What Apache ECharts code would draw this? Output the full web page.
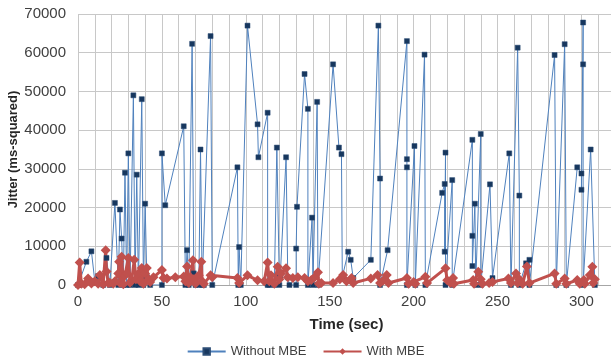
<!DOCTYPE html>
<html>
<head>
<meta charset="utf-8">
<script src="https://cdn.jsdelivr.net/npm/echarts@6/dist/echarts.min.js"></script>
<style>
  html, body { margin: 0; padding: 0; background: #fff; }
  #chart { width: 611px; height: 363px; }
</style>
</head>
<body>
<div id="chart"></div>
<script>
  // Without MBE (blue)
  const withoutTime = [0, 1, 5, 8, 10, 12, 15, 17, 19, 22, 24, 25, 26, 27, 28, 29, 30, 31, 33, 34, 35, 36, 38, 39, 40, 41, 43,
    50, 50, 52, 63, 64, 65, 66, 68, 69, 70, 72, 73, 74, 75, 79, 80, 95, 95.5, 96, 97, 101, 107, 107.5, 113, 113, 114, 117,
    118.5, 120, 120.5, 124, 125, 126, 130, 130, 130.5, 135, 137, 137, 139.5, 140, 142.5, 143, 152, 155.5, 157, 157.5, 161,
    162.5, 164, 174.5, 179, 180, 180, 184.5, 196, 196, 196, 196, 200.5, 201, 206.5, 207, 217, 218.5, 218.5, 219, 219, 223,
    223, 235, 235, 235, 236.5, 237, 240, 240, 245.5, 247, 257, 258, 262, 263, 263, 267, 269, 269, 284, 285, 290, 291,
    297.5, 300, 300, 301, 301, 301, 305.5, 308];
  const withoutJitter = [0, 0, 6000, 8700, 1000, 2300, 0, 7000, 0, 21200, 0, 19500, 12000, 0, 29000, 0, 34000, 0, 49000, 0, 28500, 0, 48000, 0, 21000, 2000, 0,
    0, 34000, 20600, 41000, 0, 9000, 0, 62300, 3000, 0, 0, 35000, 0, 0, 64300, 0, 30400, 0, 9800, 0, 67000, 41500, 33000, 44500, 0, 0, 0,
    35500, 0, 2000, 33000, 2000, 0, 0, 9400, 20200, 54500, 45500, 0, 17400, 0, 47300, 0, 57000, 35500, 33800, 2000, 8600,
    6500, 1800, 6500, 67000, 27500, 0, 9000, 63000, 32500, 30400, 0, 35900, 0, 59500, 0, 23800, 26100, 8600, 34200, 0, 27100,
    0, 37500, 12700, 4900, 21000, 0, 39000, 0, 26000, 1800, 34000, 0, 61300, 23100, 0, 5600, 6500, 0, 59400, 0, 62200, 0,
    30400, 28800, 24600, 67800, 57000, 0, 35000, 0];

  // With MBE (red)
  const withTime = [0, 1, 2, 4, 6, 8, 10, 12, 13, 15, 16.5, 17, 18, 19, 21, 22, 24, 24.5, 25, 26, 27, 28, 29, 30, 31, 32, 33.5,
    34.5, 36, 37, 38, 39, 40, 41, 42, 43, 45, 50, 51, 53, 58, 63, 64, 65, 66, 67, 68.5, 69, 70, 72, 73.5, 74, 75, 79, 80,
    95, 96, 101, 107, 111, 113, 114, 115, 117, 119, 120, 121, 124, 125, 128, 131, 135, 137, 139, 141, 143, 143.5, 145, 152,
    156, 158, 160, 163, 164, 174.5, 178.5, 180, 182, 184, 185, 196, 197, 200, 201, 207, 208, 219, 220, 222, 223.5, 224,
    235.5, 236, 238.5, 240, 241, 245, 247, 256.5, 258, 261, 262, 263, 265, 267.5, 269, 284, 285, 290, 291, 297.5, 299,
    301.5, 302, 305, 306.5, 307, 308];
  const withJitter = [0, 5800, 300, 200, 1700, 400, 1000, 300, 2600, 200, 9000, 3500, 500, 600, 300, 1000, 3000, 6000, 500, 7300, 200, 2500, 3000, 7000, 600, 1200, 6500,
    1500, 3000, 1000, 4400, 300, 3000, 4400, 1500, 800, 2000, 3900, 1800, 1700, 2000, 2200, 1000, 4800, 500, 2000, 6400, 1500, 400, 2500, 6000, 1000, 300, 2500, 2000,
    1800, 500, 2500, 1200, 1000, 5800, 1000, 2500, 300, 4700, 1500, 3000, 4300, 2000, 1800, 2000, 1800, 1000, 1300, 2000, 3300, 300, 500, 500,
    1500, 2600, 1000, 1800, 500, 1700, 2600, 500, 1200, 2600, 500, 1800, 300, 800, 300, 2100, 500, 4300, 1200, 500, 1800, 300,
    1300, 300, 3400, 1500, 300, 500, 800, 1700, 500, 3000, 500, 1500, 300, 4800, 500, 3000, 300, 1700, 300, 1300, 300,
    1300, 300, 2600, 4700, 500, 1500];

  const seriesNames = ['Without MBE', 'With MBE'];

  const zip = (xs, ys) => xs.map((x, i) => [x, ys[i]]);

  const chart = echarts.init(document.getElementById('chart'));
  chart.setOption({
    animation: false,
    textStyle: { fontFamily: 'Liberation Sans, Arial, sans-serif' },
    grid: { left: 78, right: -4, top: 14, bottom: 78, outerBoundsMode: 'none' },
    legend: {
      data: seriesNames,
      bottom: 0,
      left: 'center',
      itemWidth: 38,
      itemHeight: 8,
      itemGap: 16,
      textStyle: { fontSize: 13, color: '#404040' }
    },
    xAxis: {
      type: 'value',
      min: 0,
      max: 320,
      interval: 10,
      name: 'Time (sec)',
      nameLocation: 'middle',
      nameGap: 32,
      nameTextStyle: { fontSize: 15, fontWeight: 'bold', color: '#262626' },
      axisLine: { lineStyle: { color: '#A6A6A6' } },
      axisTick: { show: false },
      axisLabel: {
        fontSize: 15,
        color: '#404040',
        margin: 9,
        formatter: v => (v % 50 === 0 && v <= 300 ? String(v) : '')
      },
      splitLine: { lineStyle: { color: '#C8C8C8', width: 1 } }
    },
    yAxis: {
      type: 'value',
      min: 0,
      max: 70000,
      interval: 10000,
      name: 'Jitter (ms-squared)',
      nameLocation: 'middle',
      nameRotate: 90,
      nameGap: 58,
      nameMoveOverlap: false,
      nameTextStyle: { fontSize: 13, fontWeight: 'bold', color: '#262626' },
      axisLine: { show: false },
      axisTick: { show: false },
      axisLabel: { fontSize: 15, color: '#404040', margin: 12, formatter: v => String(v) },
      splitLine: { lineStyle: { color: '#C8C8C8', width: 1 } }
    },
    series: [
      {
        name: seriesNames[0],
        type: 'line',
        data: zip(withoutTime, withoutJitter),
        symbol: 'rect',
        symbolSize: 5,
        lineStyle: { color: '#4F81BD', width: 1 },
        itemStyle: { color: '#17375E', borderColor: '#2C4D75', borderWidth: 0.5 }
      },
      {
        name: seriesNames[1],
        type: 'line',
        data: zip(withTime, withJitter),
        symbol: 'diamond',
        symbolSize: 10,
        lineStyle: { color: '#C0504D', width: 3 },
        itemStyle: { color: '#C0504D' }
      }
    ]
  });
</script>
</body>
</html>
